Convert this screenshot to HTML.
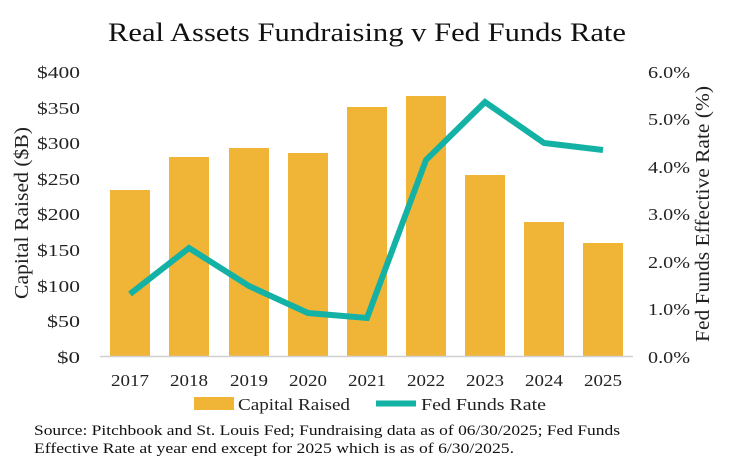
<!DOCTYPE html>
<html><head><meta charset="utf-8"><style>
html,body{margin:0;padding:0;background:#fff;}
svg{display:block;font-family:"Liberation Serif",serif;}
</style></head><body>
<svg width="729" height="463" viewBox="0 0 729 463" xmlns="http://www.w3.org/2000/svg">
<text x="108" y="41" font-size="26" fill="#111" textLength="518" lengthAdjust="spacingAndGlyphs">Real Assets Fundraising v Fed Funds Rate</text>
<g fill="#F0B537">
<rect x="110" y="190" width="40" height="166"/>
<rect x="169" y="157" width="40" height="199"/>
<rect x="229" y="148" width="40" height="208"/>
<rect x="288" y="153" width="40" height="203"/>
<rect x="347" y="107" width="40" height="249"/>
<rect x="406" y="96" width="40" height="260"/>
<rect x="465" y="175" width="40" height="181"/>
<rect x="524" y="222" width="40" height="134"/>
<rect x="583" y="243" width="40" height="113"/>
</g>
<line x1="100" y1="356.5" x2="633" y2="356.5" stroke="#d0d0d0" stroke-width="1.5"/>
<polyline points="130,294 189,248 249,286 308,313 367,318 426,160 485,102 544,143 603,150" fill="none" stroke="#14B1A5" stroke-width="6" stroke-linejoin="miter"/>
<g font-size="17" fill="#222" text-anchor="end">
<text x="80" y="78" textLength="43" lengthAdjust="spacingAndGlyphs">$400</text>
<text x="80" y="114" textLength="43" lengthAdjust="spacingAndGlyphs">$350</text>
<text x="80" y="149" textLength="43" lengthAdjust="spacingAndGlyphs">$300</text>
<text x="80" y="185" textLength="43" lengthAdjust="spacingAndGlyphs">$250</text>
<text x="80" y="220" textLength="43" lengthAdjust="spacingAndGlyphs">$200</text>
<text x="80" y="256" textLength="43" lengthAdjust="spacingAndGlyphs">$150</text>
<text x="80" y="292" textLength="43" lengthAdjust="spacingAndGlyphs">$100</text>
<text x="80" y="327" textLength="33" lengthAdjust="spacingAndGlyphs">$50</text>
<text x="80" y="363" textLength="23" lengthAdjust="spacingAndGlyphs">$0</text>
</g>
<g font-size="17" fill="#222">
<text x="648" y="78" textLength="42" lengthAdjust="spacingAndGlyphs">6.0%</text>
<text x="648" y="125" textLength="42" lengthAdjust="spacingAndGlyphs">5.0%</text>
<text x="648" y="173" textLength="42" lengthAdjust="spacingAndGlyphs">4.0%</text>
<text x="648" y="220" textLength="42" lengthAdjust="spacingAndGlyphs">3.0%</text>
<text x="648" y="268" textLength="42" lengthAdjust="spacingAndGlyphs">2.0%</text>
<text x="648" y="315" textLength="42" lengthAdjust="spacingAndGlyphs">1.0%</text>
<text x="648" y="363" textLength="42" lengthAdjust="spacingAndGlyphs">0.0%</text>
</g>
<g font-size="17" fill="#222" text-anchor="middle">
<text x="130" y="386" textLength="38" lengthAdjust="spacingAndGlyphs">2017</text>
<text x="189" y="386" textLength="38" lengthAdjust="spacingAndGlyphs">2018</text>
<text x="249" y="386" textLength="38" lengthAdjust="spacingAndGlyphs">2019</text>
<text x="308" y="386" textLength="38" lengthAdjust="spacingAndGlyphs">2020</text>
<text x="367" y="386" textLength="38" lengthAdjust="spacingAndGlyphs">2021</text>
<text x="426" y="386" textLength="38" lengthAdjust="spacingAndGlyphs">2022</text>
<text x="485" y="386" textLength="38" lengthAdjust="spacingAndGlyphs">2023</text>
<text x="544" y="386" textLength="38" lengthAdjust="spacingAndGlyphs">2024</text>
<text x="603" y="386" textLength="38" lengthAdjust="spacingAndGlyphs">2025</text>
</g>
<text transform="translate(28,213) rotate(-90)" text-anchor="middle" font-size="20" fill="#222" textLength="172" lengthAdjust="spacingAndGlyphs">Capital Raised ($B)</text>
<text transform="translate(709,214) rotate(-90)" text-anchor="middle" font-size="20" fill="#222" textLength="256" lengthAdjust="spacingAndGlyphs">Fed Funds Effective Rate (%)</text>
<rect x="194" y="397" width="40" height="13" fill="#F0B537"/>
<text x="238" y="410" font-size="17" fill="#222" textLength="112" lengthAdjust="spacingAndGlyphs">Capital Raised</text>
<line x1="376" y1="403.5" x2="416" y2="403.5" stroke="#14B1A5" stroke-width="6"/>
<text x="421" y="410" font-size="17" fill="#222" textLength="125" lengthAdjust="spacingAndGlyphs">Fed Funds Rate</text>
<text x="34" y="435" font-size="15" fill="#111" textLength="586" lengthAdjust="spacingAndGlyphs">Source: Pitchbook and St. Louis Fed; Fundraising data as of 06/30/2025; Fed Funds</text>
<text x="34" y="453" font-size="15" fill="#111" textLength="480" lengthAdjust="spacingAndGlyphs">Effective Rate at year end except for 2025 which is as of 6/30/2025.</text>
</svg>
</body></html>
